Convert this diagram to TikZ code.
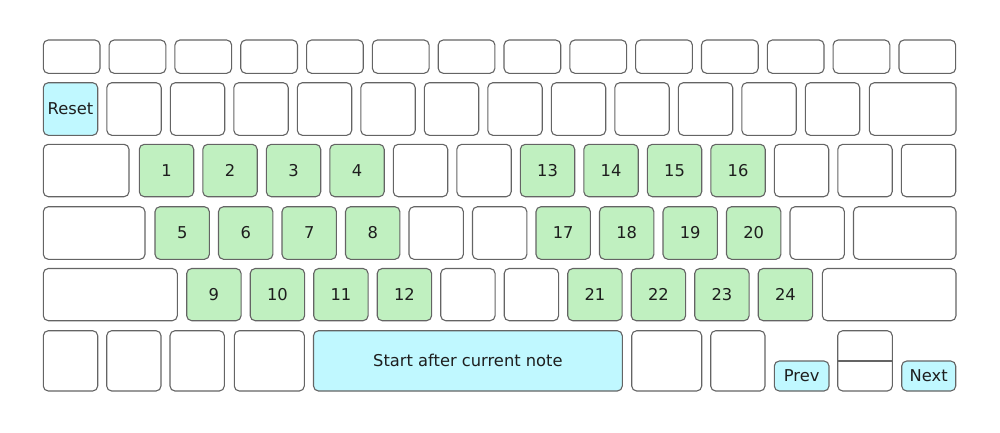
\documentclass[tikz,border=0pt]{standalone}
\usepackage{fontspec}
\setmainfont{DejaVu Sans}
\definecolor{keyline}{RGB}{100,100,100}
\definecolor{keygreen}{RGB}{192,240,192}
\definecolor{keycyan}{RGB}{192,248,255}
\definecolor{keytext}{RGB}{30,30,30}
\newcommand\kb[7]{\node[keybox,#6,minimum width={#3-#2},minimum height={#5-#4}] (#1) at ({(#2+#3)/2},{(#4+#5)/2}) {#7};}
\begin{document}
\begin{tikzpicture}[x=1pt,y=-1pt,
  keybox/.style={draw=keyline,line width=1.1pt,rounded corners=5pt,inner sep=0pt,outer sep=0pt,
    font=\fontsize{16.3}{19}\selectfont,text=keytext},
  plain/.style={fill=white},
  green/.style={fill=keygreen},
  cyan/.style={fill=keycyan}]
\useasboundingbox (0,0) rectangle (1000,432);
% row 1
\foreach \k in {0,...,13}{
  \pgfmathsetmacro\xa{43.3+65.82*\k}\pgfmathsetmacro\xb{\xa+56.7}
  \kb{ra\k}{\xa}{\xb}{40}{73.3}{plain}{}
}
% row 2
\kb{reset}{43.3}{97.7}{82.7}{135.3}{cyan}{Reset}
\foreach \k in {1,...,12}{
  \pgfmathsetmacro\xa{43.3+63.5*\k}\pgfmathsetmacro\xb{\xa+54.4}
  \kb{rb\k}{\xa}{\xb}{82.7}{135.3}{plain}{}
}
\kb{rbw}{869.3}{956}{82.7}{135.3}{plain}{}
% row 3
\kb{rcw}{43.3}{129}{144.3}{196.7}{plain}{}
\foreach \k/\s/\t in {0/green/1,1/green/2,2/green/3,3/green/4,4/plain/,5/plain/,6/green/13,7/green/14,8/green/15,9/green/16,10/plain/,11/plain/,12/plain/}{
  \pgfmathsetmacro\xa{139.3+63.5*\k}\pgfmathsetmacro\xb{\xa+54.4}
  \kb{rc\k}{\xa}{\xb}{144.3}{196.7}{\s}{\t}
}
% row 4
\kb{rdw}{43.3}{145}{206.7}{259.3}{plain}{}
\foreach \k/\s/\t in {0/green/5,1/green/6,2/green/7,3/green/8,4/plain/,5/plain/,6/green/17,7/green/18,8/green/19,9/green/20,10/plain/}{
  \pgfmathsetmacro\xa{155+63.5*\k}\pgfmathsetmacro\xb{\xa+54.4}
  \kb{rd\k}{\xa}{\xb}{206.7}{259.3}{\s}{\t}
}
\kb{rdx}{853.5}{956}{206.7}{259.3}{plain}{}
% row 5
\kb{rew}{43.3}{177.3}{268.5}{320.7}{plain}{}
\foreach \k/\s/\t in {0/green/9,1/green/10,2/green/11,3/green/12,4/plain/,5/plain/,6/green/21,7/green/22,8/green/23,9/green/24}{
  \pgfmathsetmacro\xa{186.7+63.5*\k}\pgfmathsetmacro\xb{\xa+54.4}
  \kb{re\k}{\xa}{\xb}{268.5}{320.7}{\s}{\t}
}
\kb{rex}{822.3}{956}{268.5}{320.7}{plain}{}
% row 6
\kb{rf0}{43.3}{97.7}{330.7}{391}{plain}{}
\kb{rf1}{106.7}{161}{330.7}{391}{plain}{}
\kb{rf2}{170}{224.3}{330.7}{391}{plain}{}
\kb{rf3}{234.3}{304.3}{330.7}{391}{plain}{}
\kb{space}{313.5}{622.3}{330.7}{391}{cyan}{Start after current note}
\kb{rf5}{631.7}{701.7}{330.7}{391}{plain}{}
\kb{rf6}{710.7}{765}{330.7}{391}{plain}{}
\kb{prev}{774.3}{829}{361}{391}{cyan}{Prev}
\kb{arrows}{837.7}{892.3}{330.7}{391}{plain}{}
\kb{next}{901.7}{955.7}{361}{391}{cyan}{Next}
\draw[keyline,line width=1.4pt] (arrows.west) -- (arrows.east);
\end{tikzpicture}
\end{document}
